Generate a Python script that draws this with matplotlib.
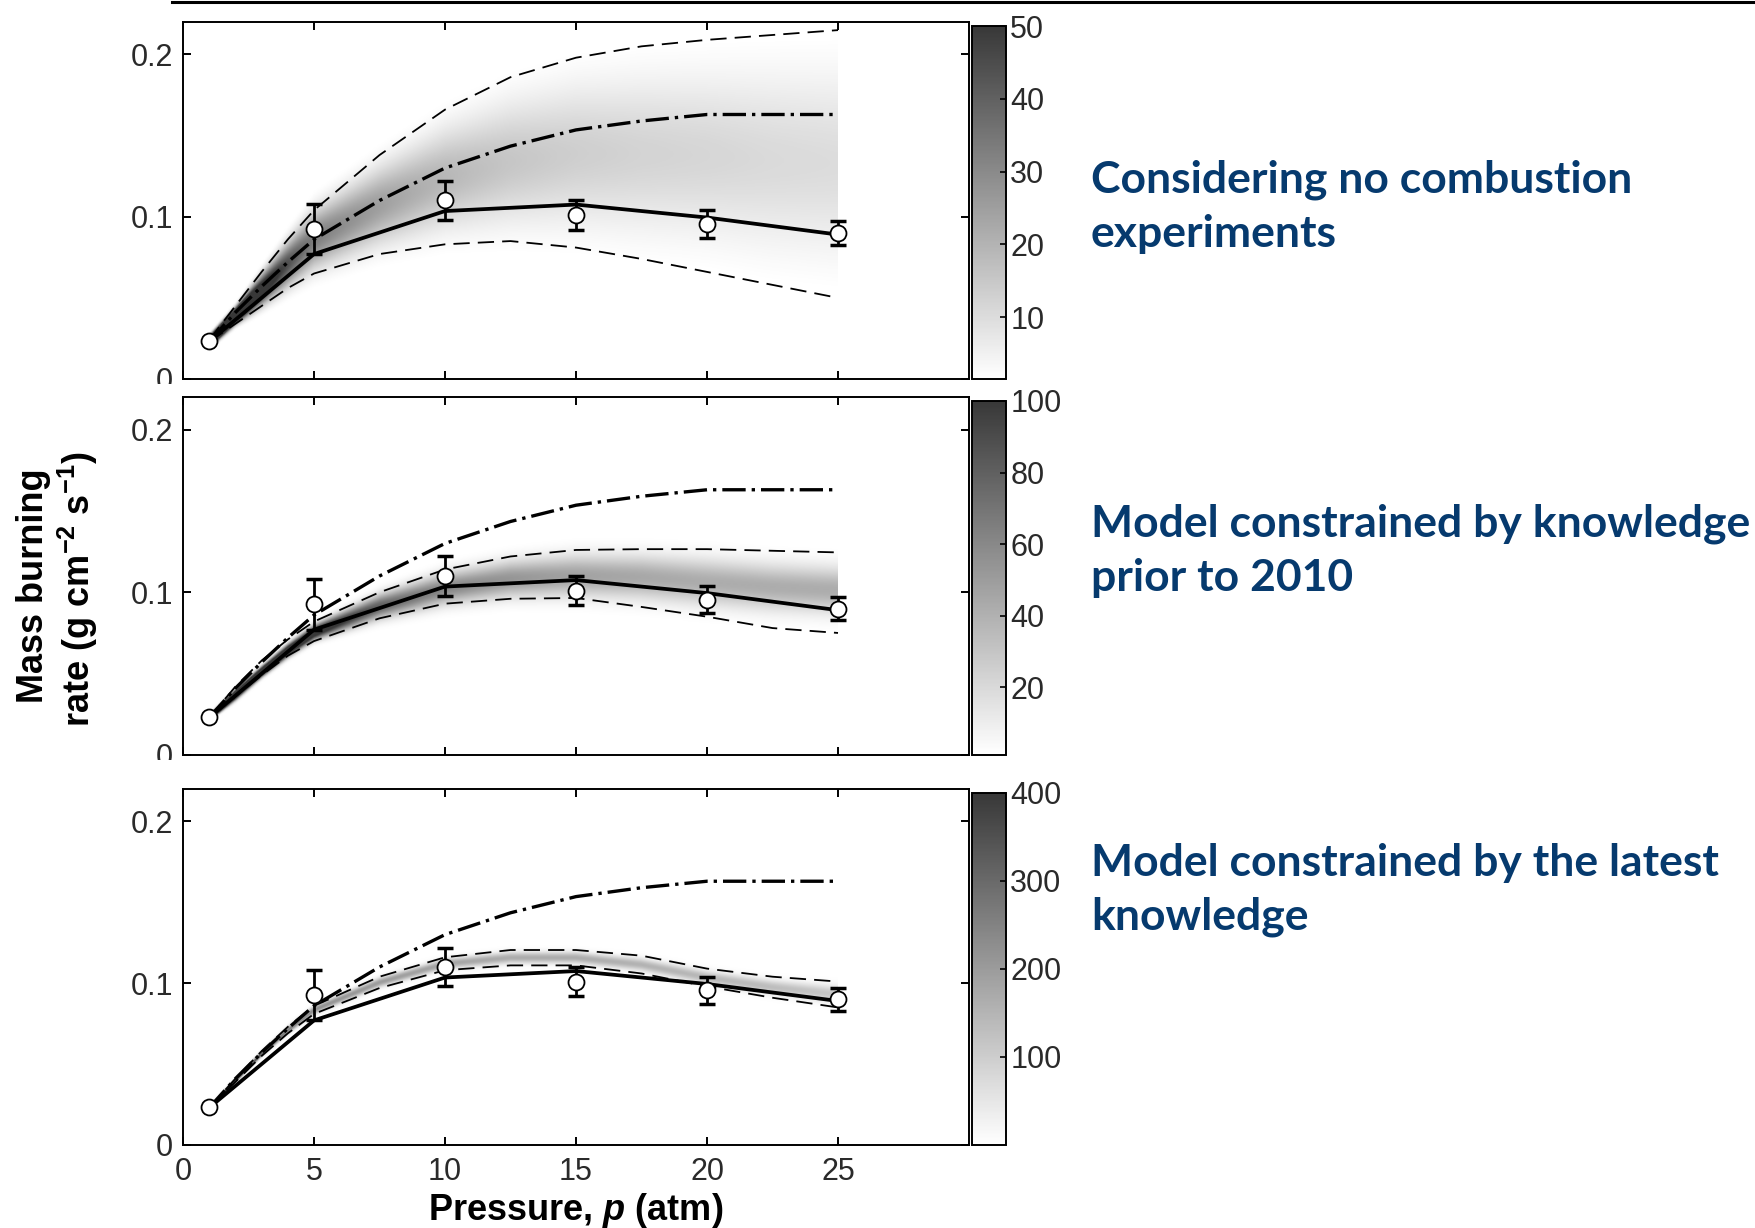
import numpy as np
import matplotlib
matplotlib.use('Agg')
import matplotlib.pyplot as plt
from matplotlib.colors import LinearSegmentedColormap
from matplotlib.lines import Line2D
from matplotlib.patches import Rectangle

# ---- datos ----
p_nodos = [1, 2, 3, 4, 5, 7.5, 10, 12.5, 15, 17.5, 20, 22.5, 25]

# linea solida (modelo base)
p_solida = [1, 5, 10, 15, 20, 25]
y_solida = [0.023, 0.077, 0.1035, 0.1075, 0.0995, 0.089]

# linea punto-raya
p_dashdot = [1, 2, 3, 4, 5, 7.5, 10, 12.5, 15, 17.5, 20, 22.5, 25]
y_dashdot = [0.023, 0.041, 0.057, 0.072, 0.086, 0.110, 0.130, 0.1435, 0.1535, 0.159, 0.163, 0.163, 0.163]

# experimentos
p_exp = [1, 5, 10, 15, 20, 25]
y_exp = [0.0236, 0.0925, 0.110, 0.101, 0.0955, 0.090]
err_exp = [0.0, 0.0155, 0.012, 0.009, 0.0085, 0.0073]

# limites (lineas discontinuas) por panel
sup_1 = [0.024, 0.045, 0.066, 0.086, 0.104, 0.138, 0.166, 0.186, 0.198, 0.205, 0.209, 0.212, 0.215]
inf_1 = [0.023, 0.034, 0.045, 0.056, 0.065, 0.077, 0.083, 0.085, 0.081, 0.074, 0.066, 0.058, 0.050]
sup_2 = [0.023, 0.042, 0.058, 0.071, 0.082, 0.100, 0.114, 0.122, 0.126, 0.1265, 0.1265, 0.1255, 0.1245]
inf_2 = [0.023, 0.036, 0.049, 0.061, 0.070, 0.084, 0.093, 0.096, 0.0965, 0.091, 0.085, 0.078, 0.075]
sup_3 = [0.023, 0.041, 0.058, 0.073, 0.086, 0.104, 0.116, 0.1205, 0.1205, 0.117, 0.109, 0.104, 0.101]
inf_3 = [0.023, 0.039, 0.055, 0.069, 0.081, 0.097, 0.108, 0.111, 0.111, 0.106, 0.098, 0.091, 0.085]

# sombreado: centro y anchura de la densidad por panel
centro_1 = [0.023, 0.039, 0.055, 0.071, 0.086, 0.107, 0.124, 0.134, 0.139, 0.139, 0.138, 0.135, 0.133]
sigma_1 = [0.002, 0.003, 0.006, 0.009, 0.012, 0.016, 0.021, 0.026, 0.030, 0.033, 0.035, 0.038, 0.040]
centro_2 = [0.023, 0.037, 0.051, 0.064, 0.075, 0.091, 0.102, 0.108, 0.110, 0.109, 0.106, 0.103, 0.101]
sigma_2 = [0.001, 0.002, 0.002, 0.0025, 0.003, 0.005, 0.0065, 0.0075, 0.0085, 0.009, 0.0095, 0.0095, 0.0095]
centro_3 = [0.023, 0.040, 0.0565, 0.071, 0.0835, 0.1005, 0.112, 0.1158, 0.1158, 0.1115, 0.1035, 0.0975, 0.093]
sigma_3 = [0.0008, 0.001, 0.0012, 0.0015, 0.0018, 0.002, 0.0022, 0.0024, 0.0024, 0.0026, 0.0028, 0.003, 0.0035]

cb_min = [1.5, 1, 0]
cb_max = [50, 100, 400]
cb_ticks = [[10, 20, 30, 40, 50], [20, 40, 60, 80, 100], [100, 200, 300, 400]]

textos = ['Considering no combustion\nexperiments',
          'Model constrained by knowledge\nprior to 2010',
          'Model constrained by the latest\nknowledge']

# ---- estilo ----
plt.rcParams['font.family'] = ['Liberation Sans', 'DejaVu Sans']
plt.rcParams['mathtext.fontset'] = 'custom'
plt.rcParams['mathtext.rm'] = 'Liberation Sans:bold'
plt.rcParams['mathtext.bf'] = 'Liberation Sans:bold'
plt.rcParams['mathtext.it'] = 'Liberation Sans:italic:bold'

W, H = 1755, 1228
def fx(px):
    return px / W
def fy(py):
    return 1 - py / H

fig = plt.figure(figsize=(W / 100, H / 100), dpi=100)
cmap = LinearSegmentedColormap.from_list('grises', ['#ffffff', '#383838'])

tops = [22, 397, 789]
bottoms = [379, 755, 1145]
x_izq, x_der = 183, 969
texto_y = [207, 551, 890]

sups = [sup_1, sup_2, sup_3]
infs = [inf_1, inf_2, inf_3]
centros = [centro_1, centro_2, centro_3]
sigmas = [sigma_1, sigma_2, sigma_3]

pg = np.linspace(1, 25, 481)
yg = np.linspace(0, 0.22, 661)
tick_col = '#2a2a2a'

for i in range(3):
    t, b = tops[i], bottoms[i]
    ax = fig.add_axes([fx(x_izq), fy(b), (x_der - x_izq) / W, (b - t) / H], zorder=i)
    cax = fig.add_axes([fx(972), fy(b), 34 / W, (b - t - 4) / H], zorder=i)

    # densidad (sombreado)
    c = np.interp(pg, p_nodos, centros[i])
    s = np.interp(pg, p_nodos, sigmas[i])
    dens = np.exp(-0.5 * ((yg[:, None] - c[None, :]) / s[None, :]) ** 2) / (s[None, :] * np.sqrt(2 * np.pi))
    im = ax.imshow(dens, extent=[1, 25, 0, 0.22], origin='lower', aspect='auto', cmap=cmap,
                   vmin=cb_min[i], vmax=cb_max[i], interpolation='bilinear', zorder=0)

    ax.plot(p_nodos, sups[i], color='black', lw=1.3, dashes=(9, 4.5), zorder=2)
    ax.plot(p_nodos, infs[i], color='black', lw=1.3, dashes=(9, 4.5), zorder=2)
    ax.plot(p_dashdot, y_dashdot, color='black', lw=2.4, dashes=(7, 1.8, 1, 1.8), zorder=3)
    ax.plot(p_solida, y_solida, color='black', lw=2.7, zorder=3)
    ax.errorbar(p_exp, y_exp, yerr=err_exp, fmt='none', ecolor='black', elinewidth=2,
                capsize=6, capthick=2.5, zorder=4)
    ax.plot(p_exp, y_exp, 'o', ms=11.5, mfc='white', mec='black', mew=1.3, zorder=5)

    ax.set_xlim(0, 30)
    ax.set_ylim(0, 0.22)
    ax.set_xticks([0, 5, 10, 15, 20, 25])
    ax.set_yticks([0, 0.1, 0.2])
    ax.set_yticklabels(['0', '0.1', '0.2'])
    ax.tick_params(direction='in', length=6, width=1.4, top=True, right=True,
                   labelsize=22, labelcolor=tick_col, color='black')
    ax.tick_params(axis='y', pad=7)
    ax.tick_params(axis='x', pad=9)
    if i < 2:
        ax.set_xticklabels([])
    for sp in ax.spines.values():
        sp.set_linewidth(1.4)

    cb = fig.colorbar(im, cax=cax, ticks=cb_ticks[i])
    cb.outline.set_linewidth(1.4)
    cax.tick_params(direction='in', length=4, width=1.2, labelsize=22, labelcolor=tick_col, pad=3)

    # el panel siguiente tapa la parte baja del "0"
    if i < 2:
        fig.add_artist(Rectangle((0, fy(tops[i + 1])), fx(1065), (tops[i + 1] - b - 5) / H,
                                 transform=fig.transFigure, facecolor='white', edgecolor='none',
                                 zorder=i + 0.5))

    fig.text(fx(1091), fy(texto_y[i]), textos[i], ha='left', va='center',
             fontsize=32, fontweight='bold', color='#063a6e', family=['Lato', 'DejaVu Sans'],
             linespacing=1.42, zorder=5)

# etiquetas de ejes
fig.text(fx(34), fy(586), 'Mass burning', rotation=90, ha='center', va='center',
         fontsize=26, fontweight='bold')
fig.text(fx(78), fy(589), r'rate (g cm$^{-2}$ s$^{-1}$)', rotation=90, ha='center', va='center',
         fontsize=26, fontweight='bold')
fig.text(fx(576), fy(1211), r'Pressure, $p$ (atm)', ha='center', va='center',
         fontsize=26, fontweight='bold')

# linea superior
fig.add_artist(Line2D([fx(172), 1.0], [fy(2), fy(2)], color='black', lw=2.2, transform=fig.transFigure))

fig.savefig('out.png', dpi=100)
